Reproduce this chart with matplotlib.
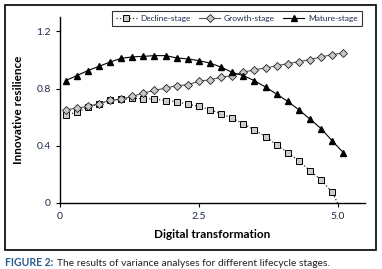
import numpy as np
import matplotlib
matplotlib.use("Agg")
import matplotlib.pyplot as plt
from matplotlib.patches import Rectangle

plt.rcParams['font.family'] = ['Lato', 'DejaVu Sans']

# digital transformation levels (x)
x = [0.1, 0.3, 0.5, 0.7, 0.9, 1.1, 1.3, 1.5, 1.7, 1.9, 2.1, 2.3, 2.5,
     2.7, 2.9, 3.1, 3.3, 3.5, 3.7, 3.9, 4.1, 4.3, 4.5, 4.7, 4.9, 5.1]

decline = [0.616, 0.633, 0.670, 0.691, 0.717, 0.726, 0.731, 0.729, 0.726,
           0.715, 0.708, 0.691, 0.675, 0.652, 0.624, 0.593, 0.553, 0.511,
           0.464, 0.406, 0.352, 0.294, 0.226, 0.161, 0.075, -0.08]
growth = [0.651, 0.663, 0.675, 0.694, 0.717, 0.726, 0.745, 0.768, 0.787,
          0.803, 0.820, 0.827, 0.850, 0.862, 0.878, 0.890, 0.913, 0.932,
          0.943, 0.960, 0.974, 0.988, 1.002, 1.021, 1.037, 1.049]
mature = [0.855, 0.890, 0.925, 0.955, 0.985, 1.011, 1.021, 1.025, 1.030,
          1.030, 1.014, 1.007, 0.995, 0.978, 0.950, 0.913, 0.890, 0.855,
          0.810, 0.761, 0.710, 0.651, 0.586, 0.520, 0.434, 0.352]

xticks = [0, 2.5, 5.0]
xticklabels = ['0', '2.5', '5.0']
yticks = [0, 0.4, 0.8, 1.2]
yticklabels = ['0', '0.4', '0.8', '1.2']

tick_col = '#1c2a4a'

fig = plt.figure(figsize=(3.82, 2.69), dpi=100)
ax = fig.add_axes([60/382, 66/269, 305/382, 186/269])

ax.plot(x, decline, linestyle=':', color='#333333', lw=0.9, marker='s',
        markersize=4.3, markerfacecolor='#cccccc', markeredgecolor='black',
        markeredgewidth=0.7, label='Decline-stage')
ax.plot(x, growth, linestyle='-', color='#555555', lw=0.8, marker='D',
        markersize=4.0, markerfacecolor='#c8c8c8', markeredgecolor='#222222',
        markeredgewidth=0.6, label='Growth-stage')
ax.plot(x, mature, linestyle='-', color='black', lw=0.8, marker='^',
        markersize=4.5, markerfacecolor='black', markeredgecolor='black',
        label='Mature-stage')

ax.set_xlim(0, 5.49)
ax.set_ylim(0, 1.30)
ax.set_xticks(xticks)
ax.set_xticklabels(xticklabels)
ax.set_yticks(yticks)
ax.set_yticklabels(yticklabels)
ax.tick_params(labelsize=7.5, colors='black', length=3, width=0.8, labelcolor=tick_col)
ax.spines['top'].set_visible(False)
ax.spines['right'].set_visible(False)
for s in ['left', 'bottom']:
    ax.spines[s].set_linewidth(1.0)

ax.set_xlabel('Digital transformation', fontsize=8.5, fontweight='bold', labelpad=6)
ax.set_ylabel('Innovative resilience', fontsize=8.5, fontweight='bold', labelpad=9)

leg = ax.legend(loc='upper right', bbox_to_anchor=(0.997, 1.045), ncol=3,
                fontsize=6, frameon=True, fancybox=False, handlelength=2.5,
                columnspacing=1.0, handletextpad=0.45, borderpad=0.5,
                borderaxespad=0.3)
leg.get_frame().set_edgecolor('black')
leg.get_frame().set_linewidth(0.8)
for t in leg.get_texts():
    t.set_color(tick_col)

# outer border around the chart
fig.patches.append(Rectangle((5/382, 19/269), 371/382, 245/269,
                             transform=fig.transFigure, fill=False,
                             edgecolor='black', lw=1.2))

fig.text(5/382, 6/269, 'FIGURE 2:', fontsize=7.6, fontweight='bold',
         color='#2a5a8c', ha='left', va='center')
fig.text(57/382, 6/269, 'The results of variance analyses for different lifecycle stages.',
         fontsize=7.4, color='#222222', ha='left', va='center')

fig.savefig('out.png', dpi=100)
